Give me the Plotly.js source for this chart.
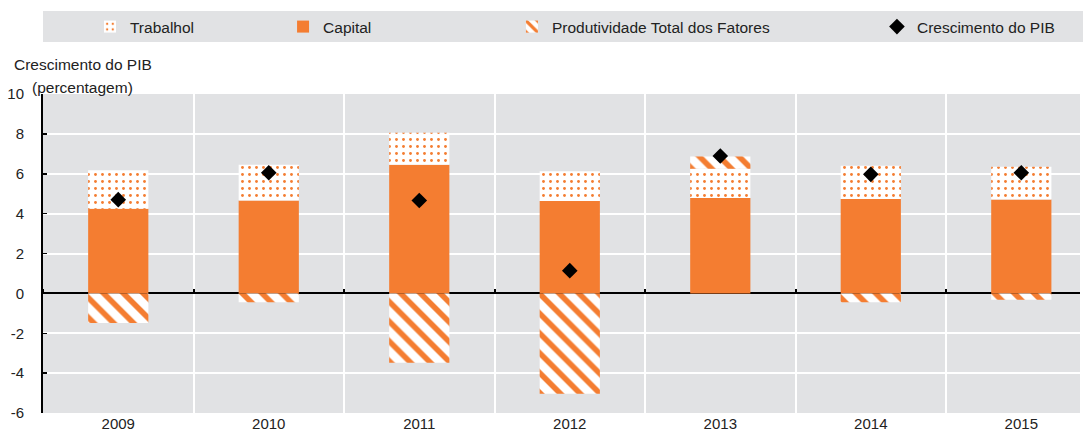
<!DOCTYPE html>
<html>
<head>
<meta charset="utf-8">
<script src="https://cdn.plot.ly/plotly-3.0.1.min.js"></script>
<style>
html,body{margin:0;padding:0;background:#fff;}
#chart{width:1083px;height:435px;}
</style>
</head>
<body>
<div id="chart"></div>
<script>
const years = ['2009','2010','2011','2012','2013','2014','2015'];
const capital = [4.25, 4.66, 6.45, 4.63, 4.78, 4.73, 4.71];
const labor = [1.92, 1.79, 1.61, 1.50, 1.47, 1.67, 1.64];
const tfp = [-1.49, -0.44, -3.48, -5.03, 0.62, -0.45, -0.32];
const gdp = [4.70, 6.05, 4.66, 1.14, 6.89, 5.97, 6.05];
const yTicks = [-6, -4, -2, 0, 2, 4, 6, 8, 10];

const ORANGE = '#f47d31';
const GRAY = '#e1e2e4';
const FONT = 'Liberation Sans, Arial, sans-serif';

const traces = [
  {type:'bar', name:'Capital', x:years, y:capital, width:0.4,
   marker:{color:ORANGE, line:{width:0}}, legend:'legend2'},
  {type:'bar', name:'Trabalhol', x:years, y:labor, width:0.4,
   marker:{color:'#ffffff', line:{width:0},
     pattern:{shape:'.', fgcolor:ORANGE, bgcolor:'#ffffff', size:7, solidity:0.13, fillmode:'replace'}},
   legend:'legend'},
  {type:'bar', name:'Produtividade Total dos Fatores', x:years, y:tfp, width:0.4,
   marker:{color:'#ffffff', line:{width:0},
     pattern:{shape:'\\', fgcolor:ORANGE, bgcolor:'#ffffff', size:14, solidity:0.4, fillmode:'replace'}},
   legend:'legend3'},
  {type:'scatter', mode:'markers', name:'Crescimento do PIB', x:years, y:gdp,
   marker:{symbol:'diamond', color:'#000000', size:12}, legend:'legend4'}
];

function leg(x){
  return {x:x, xanchor:'left', y:1.21, yanchor:'middle', orientation:'h',
    bgcolor:'rgba(0,0,0,0)', font:{family:FONT, size:15.5, color:'#222'}};
}

const layout = {
  width:1083, height:435,
  margin:{l:43, r:3, t:94, b:22},
  paper_bgcolor:'#ffffff', plot_bgcolor:GRAY,
  barmode:'relative', bargap:0.6,
  font:{family:FONT, size:15, color:'#222'},
  showlegend:true,
  legend:leg(0.0453),
  legend2:leg(0.2315),
  legend3:leg(0.4522),
  legend4:leg(0.8042),
  xaxis:{type:'category', range:[-0.5, 6.39], tickson:'boundaries',
    showgrid:true, gridcolor:'#ffffff', gridwidth:2, ticks:'', showline:false,
    tickfont:{family:FONT, size:15, color:'#222'}, zeroline:false, fixedrange:true},
  xaxis2:{type:'category', overlaying:'x', matches:'x', anchor:'free', side:'top',
    position:0.375, tickson:'boundaries', ticks:'outside', ticklen:4, tickwidth:2, tickcolor:'#000',
    showticklabels:false, showgrid:false, showline:false, zeroline:false},
  yaxis:{range:[-6, 10], tickvals:yTicks, ticktext:yTicks.map(String),
    showgrid:true, gridcolor:'#ffffff', gridwidth:2,
    zeroline:true, zerolinecolor:'#000000', zerolinewidth:2,
    showline:true, linecolor:'#000000', linewidth:2,
    ticks:'inside', ticklen:4, tickwidth:1.5, tickcolor:'#000',
    ticklabelstandoff:14,
    tickfont:{family:FONT, size:15, color:'#222'}, fixedrange:true},
  shapes:[
    {type:'rect', xref:'paper', yref:'paper', x0:0, x1:1.01, y0:1.163, y1:1.260,
     fillcolor:GRAY, line:{width:0}, layer:'below'}
  ],
  annotations:[
    {text:'Crescimento do PIB', xref:'paper', yref:'paper', x:-0.0299, y:1.091,
     xanchor:'left', yanchor:'middle', showarrow:false, font:{family:FONT, size:15.5, color:'#222'}},
    {text:'(percentagem)', xref:'paper', yref:'paper', x:-0.0125, y:1.019,
     xanchor:'left', yanchor:'middle', showarrow:false, font:{family:FONT, size:15.5, color:'#222'}}
  ]
};

// invisible helper trace so the overlay axis (boundary ticks on the zero line) renders
traces.push({type:'scatter', x:years, y:capital, xaxis:'x2', yaxis:'y', mode:'none',
  showlegend:false, hoverinfo:'skip'});

Plotly.newPlot('chart', traces, layout, {displayModeBar:false, staticPlot:true});
</script>
</body>
</html>
